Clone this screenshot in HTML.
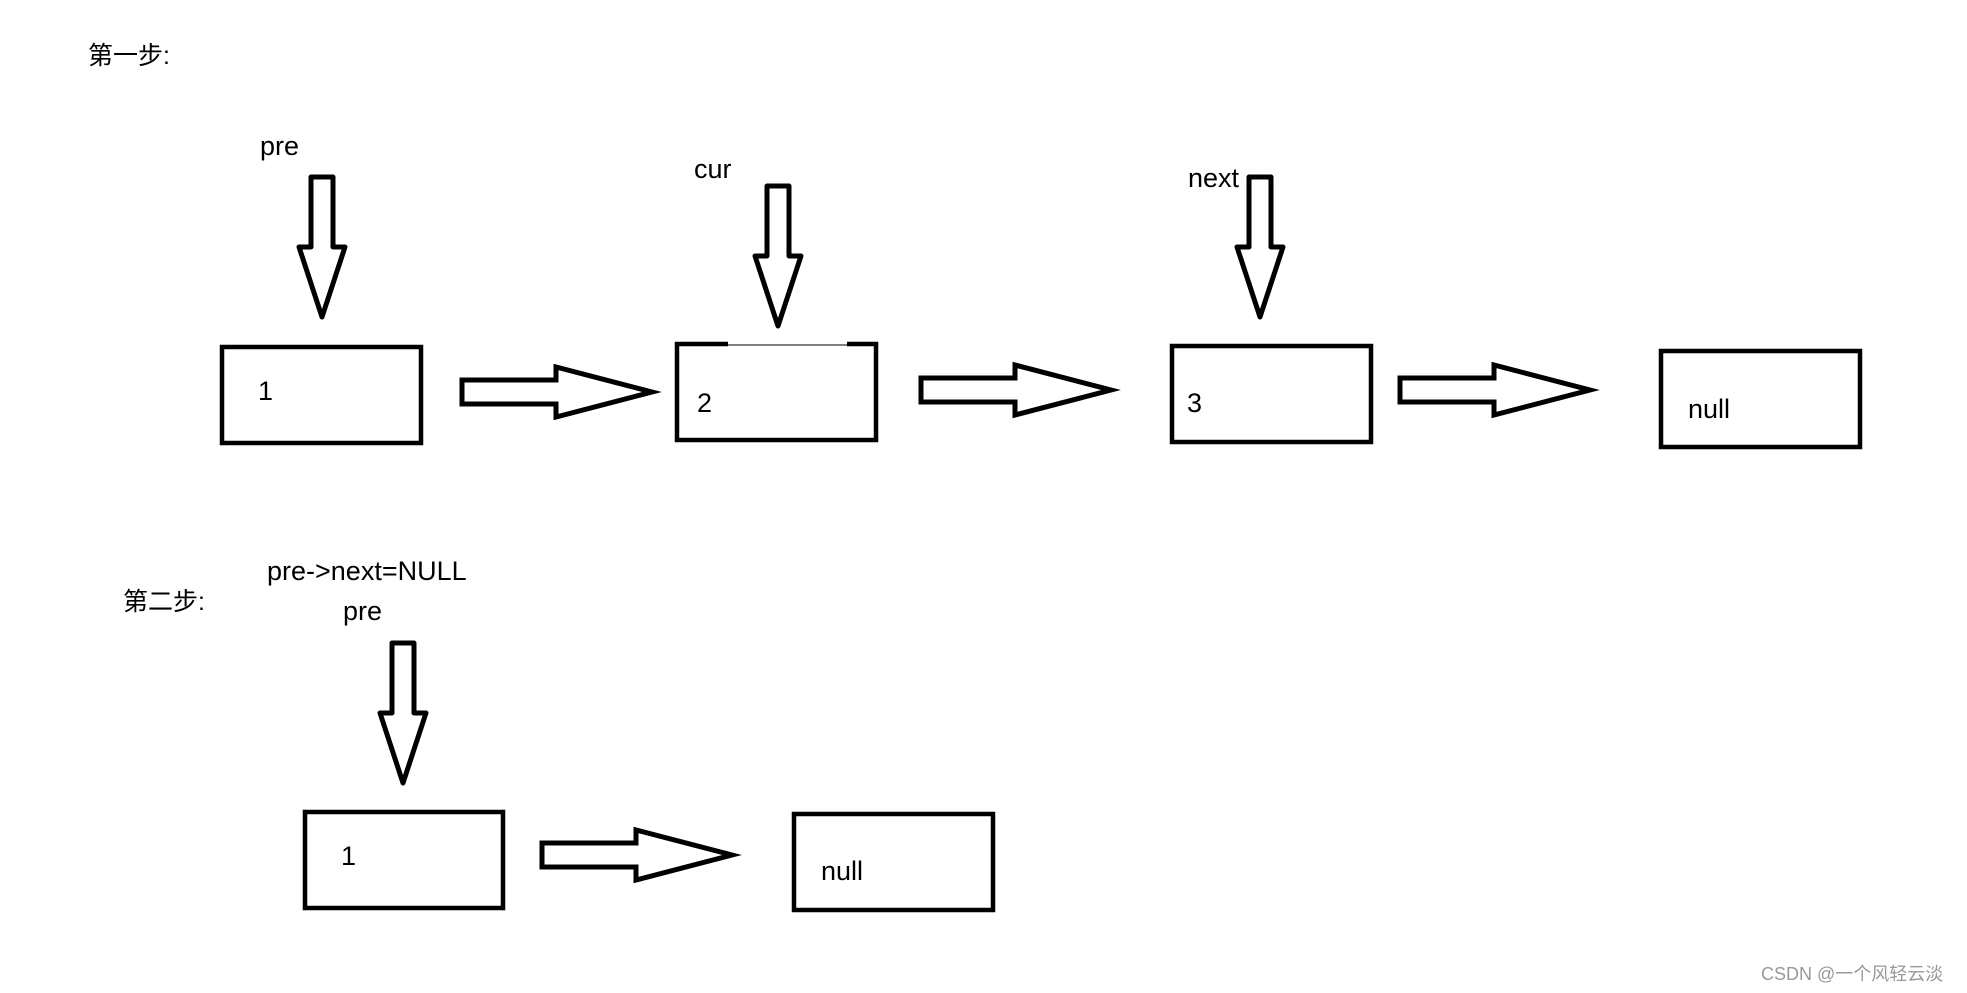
<!DOCTYPE html>
<html><head><meta charset="utf-8"><style>
html,body{margin:0;padding:0;background:#fff;}
body{width:1967px;height:993px;overflow:hidden;}
</style></head><body>
<svg width="1967" height="993" viewBox="0 0 1967 993" xmlns="http://www.w3.org/2000/svg" style="display:block">
<defs>
<g id="ra"><polygon points="0,-12 94,-12 94,-25 190,0 94,25 94,12 0,12" fill="#fff" stroke="#000" stroke-width="5" stroke-linejoin="miter"/></g>
<g id="da"><polygon points="-11,0 11,0 11,70 23,70 0,140 -23,70 -11,70" fill="#fff" stroke="#000" stroke-width="5" stroke-linejoin="round"/></g>
</defs>
<g font-family="'Liberation Sans','Noto Sans CJK SC',sans-serif" font-size="27" fill="#000">
<text x="88" y="64" font-size="25">第一步:</text>
<text x="260" y="155">pre</text>
<text x="694" y="178">cur</text>
<text x="1188" y="187">next</text>
<text x="258" y="400">1</text>
<text x="697" y="412">2</text>
<text x="1187" y="412">3</text>
<text x="1688" y="418">null</text>
<text x="123" y="610" font-size="25">第二步:</text>
<text x="267" y="580">pre-&gt;next=NULL</text>
<text x="343" y="620">pre</text>
<text x="341" y="865">1</text>
<text x="821" y="880">null</text>
<text x="1761" y="980" font-size="18" fill="#999">CSDN @一个风轻云淡</text>
</g>
<g fill="none" stroke="#000" stroke-width="4.5">
<rect x="222" y="347" width="199" height="96"/>
<rect x="677" y="344" width="199" height="96"/>
<rect x="1172" y="346" width="199" height="96"/>
<rect x="1661" y="351" width="199" height="96"/>
<rect x="305" y="812" width="198" height="96"/>
<rect x="794" y="814" width="199" height="96"/>
</g>
<line x1="728" y1="344" x2="847" y2="344" stroke="#fff" stroke-width="5"/>
<line x1="728" y1="345" x2="847" y2="345" stroke="#000" stroke-width="1"/>
<use href="#da" x="322" y="177"/>
<use href="#da" x="778" y="186"/>
<use href="#da" x="1260" y="177"/>
<use href="#da" x="403" y="643"/>
<use href="#ra" x="462" y="392"/>
<use href="#ra" x="921" y="390"/>
<use href="#ra" x="1400" y="390"/>
<use href="#ra" x="542" y="855"/>
</svg>
</body></html>
